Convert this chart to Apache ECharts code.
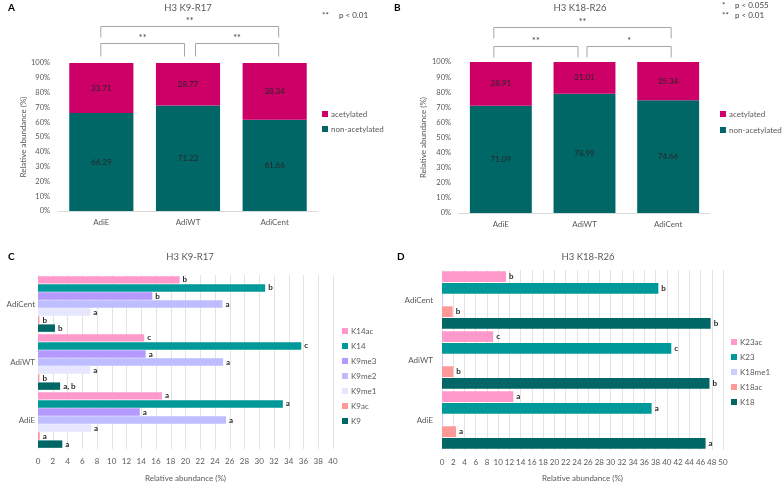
<!DOCTYPE html>
<html><head><meta charset="utf-8">
<script src="https://cdn.jsdelivr.net/npm/echarts@6/dist/echarts.min.js"></script>
<style>html,body{margin:0;padding:0;background:#fff}#c{width:783px;height:484px}</style>
</head><body><div id="c"></div>
<script>
const groups = ['AdiE', 'AdiWT', 'AdiCent'];
// Panel A: H3 K9-R17
const aNonAcetylated = [66.29, 71.23, 61.66];
const aAcetylated = [33.71, 28.77, 38.34];
// Panel B: H3 K18-R26
const bNonAcetylated = [71.09, 78.99, 74.66];
const bAcetylated = [28.91, 21.01, 25.34];
// Panel C: H3 K9-R17 (values per group AdiE, AdiWT, AdiCent)
const cNames = ['K14ac', 'K14', 'K9me3', 'K9me2', 'K9me1', 'K9ac', 'K9'];
const cK14ac = [16.8, 14.4, 19.2];
const cK14 = [33.2, 35.7, 30.8];
const cK9me3 = [13.8, 14.6, 15.5];
const cK9me2 = [25.5, 25.1, 25.0];
const cK9me1 = [7.2, 7.1, 7.1];
const cK9ac = [0.25, 0.2, 0.2];
const cK9 = [3.3, 3.0, 2.3];
const cLetters = {
  K14ac: ['a', 'c', 'b'], K14: ['a', 'c', 'b'], K9me3: ['a', 'a', 'b'],
  K9me2: ['a', 'a', 'a'], K9me1: ['a', 'a', 'a'], K9ac: ['a', 'b', 'b'], K9: ['a', 'a, b', 'b']
};
// Panel D: H3 K18-R26
const dNames = ['K23ac', 'K23', 'K18me1', 'K18ac', 'K18'];
const dK23ac = [12.7, 9.1, 11.4];
const dK23 = [37.3, 40.8, 38.5];
const dK18me1 = [0.2, 0.2, 0.2];
const dK18ac = [2.5, 2.0, 1.9];
const dK18 = [46.9, 47.6, 47.8];
const dLetters = {
  K23ac: ['a', 'c', 'b'], K23: ['a', 'c', 'b'], K18me1: ['', '', ''],
  K18ac: ['a', 'b', 'b'], K18: ['a', 'b', 'b']
};
const pctTicksMax = 100;
const cTicksMax = 40;
const dTicksMax = 50;
// significance brackets: [fromIdx, toIdx, stars, level]
const aBrackets = [[0, 2, '**', 0], [0, 1, '**', 1], [1, 2, '**', 1]];
const bBrackets = [[0, 2, '**', 0], [0, 1, '**', 1], [1, 2, '*', 1]];

const FONT = 'Lato, "Open Sans", sans-serif';
const GREY = '#595959';
const colors = {
  acetylated: '#CC0066', 'non-acetylated': '#006666',
  K14ac: '#FF99CC', K14: '#009999', K9me3: '#B499FF', K9me2: '#BDBDFF', K9me1: '#E6E6FF', K9ac: '#FF9999', K9: '#006666',
  K23ac: '#FF99CC', K23: '#009999', K18me1: '#CCCCFF', K18ac: '#FF9999', K18: '#006666'
};
const cData = { K14ac: cK14ac, K14: cK14, K9me3: cK9me3, K9me2: cK9me2, K9me1: cK9me1, K9ac: cK9ac, K9: cK9 };
const dData = { K23ac: dK23ac, K23: dK23, K18me1: dK18me1, K18ac: dK18ac, K18: dK18 };

const chart = echarts.init(document.getElementById('c'), null, { renderer: 'canvas' });

function catX(i) {
  return {
    type: 'category', gridIndex: i, data: groups,
    axisLine: { lineStyle: { color: '#D9D9D9' } }, axisTick: { show: false },
    axisLabel: { color: GREY, fontSize: 8, fontFamily: FONT, margin: 7 }
  };
}
function pctY(i, gap) {
  return {
    type: 'value', gridIndex: i, min: 0, max: pctTicksMax, interval: 10,
    name: 'Relative abundance (%)', nameLocation: 'middle', nameGap: gap,
    nameTextStyle: { color: GREY, fontSize: 8, fontFamily: FONT },
    axisLine: { show: false }, axisTick: { show: false }, splitLine: { show: false },
    axisLabel: { color: GREY, fontSize: 7.5, fontFamily: FONT, margin: 8, formatter: '{value}%' }
  };
}
function valX(i, max, gap) {
  return {
    type: 'value', gridIndex: i, min: 0, max: max, interval: 2,
    name: 'Relative abundance (%)', nameLocation: 'middle', nameGap: gap,
    nameTextStyle: { color: GREY, fontSize: 8, fontFamily: FONT },
    axisLine: { show: false }, axisTick: { show: false },
    splitLine: { show: true, lineStyle: { color: '#E3E3E3', width: 1 } },
    axisLabel: { color: GREY, fontSize: 8, fontFamily: FONT, margin: 8 }
  };
}
function catY(i, margin) {
  return {
    type: 'category', gridIndex: i, data: groups,
    axisLine: { show: false }, axisTick: { show: false },
    axisLabel: { color: GREY, fontSize: 8, fontFamily: FONT, margin: margin }
  };
}
function stackSeries(name, data, gi) {
  return {
    type: 'bar', name: name, xAxisIndex: gi, yAxisIndex: gi, stack: 's' + gi, data: data,
    barWidth: '74%', itemStyle: { color: colors[name] },
    label: { show: true, position: 'inside', color: '#262626', fontSize: 8, fontFamily: FONT,
      textBorderWidth: 0, textBorderColor: 'transparent', formatter: p => p.value.toFixed(2) }
  };
}
function hSeries(name, data, letters, gi) {
  return {
    type: 'bar', name: name, xAxisIndex: gi, yAxisIndex: gi, data: data,
    barGap: '8%', barCategoryGap: '4%',
    itemStyle: { color: colors[name] },
    label: { show: true, position: 'right', distance: 3, color: '#262626', fontSize: 8, fontWeight: 'bold', fontFamily: FONT,
      formatter: p => letters[p.dataIndex] }
  };
}
function legendCfg(names, left, top, gap) {
  return {
    orient: 'vertical', left: left, top: top, itemWidth: 6, itemHeight: 6, itemGap: gap, data: names,
    icon: 'rect', selectedMode: false, padding: 0,
    textStyle: { color: GREY, fontSize: 8, fontFamily: FONT, padding: [0, 0, 0, -2] }
  };
}

const series = [
  stackSeries('non-acetylated', aNonAcetylated, 0),
  stackSeries('acetylated', aAcetylated, 0),
  stackSeries('non-acetylated', bNonAcetylated, 1),
  stackSeries('acetylated', bAcetylated, 1)
];
cNames.forEach(n => series.push(hSeries(n, cData[n], cLetters[n], 2)));
dNames.forEach(n => series.push(hSeries(n, dData[n], dLetters[n], 3)));

function titleAt(text, x, y, bold, size) {
  return { text: text, left: x, top: y, textAlign: bold ? 'left' : 'center', padding: 0,
    textStyle: { color: bold ? '#000' : GREY, fontSize: size, fontWeight: bold ? 'bold' : 'normal', fontFamily: FONT } };
}

chart.setOption({
  animation: false,
  backgroundColor: '#fff',
  title: [
    titleAt('A', 8, 3, true, 10), titleAt('H3 K9-R17', 188, 3, false, 9.5),
    titleAt('B', 394, 3, true, 10), titleAt('H3 K18-R26', 580, 3, false, 9.5),
    titleAt('C', 8, 252, true, 10), titleAt('H3 K9-R17', 190, 252, false, 9.5),
    titleAt('D', 397, 252, true, 10), titleAt('H3 K18-R26', 588, 252, false, 9.5)
  ],
  grid: [
    { left: 58, top: 63, width: 260, height: 148 },
    { left: 459, top: 62, width: 251, height: 151 },
    { left: 38, top: 275, width: 295, height: 174 },
    { left: 442, top: 270, width: 281, height: 180 }
  ],
  xAxis: [catX(0), catX(1), valX(2, cTicksMax, 25), valX(3, dTicksMax, 24)],
  yAxis: [pctY(0, 31), pctY(1, 32), catY(2, 3), catY(3, 9)],
  legend: [
    legendCfg(['acetylated', 'non-acetylated'], 322, 110, 7),
    legendCfg(['acetylated', 'non-acetylated'], 720, 110, 8),
    legendCfg(cNames, 342, 327, 7),
    legendCfg(dNames, 731, 338, 7)
  ],
  series: series
});

// significance brackets placed via the category scale
function bracketGraphics(gi, brackets, yTop, yLow, drop, offs) {
  const els = [];
  brackets.forEach(b => {
    const o = offs[b.slice(0, 2).join('-')];
    const x1 = chart.convertToPixel({ gridIndex: gi }, [groups[b[0]], 0])[0] + o[0];
    const x2 = chart.convertToPixel({ gridIndex: gi }, [groups[b[1]], 0])[0] + o[1];
    const y = b[3] === 0 ? yTop : yLow;
    els.push({ type: 'polyline', shape: { points: [[x1, y + drop[b[3]]], [x1, y], [x2, y], [x2, y + drop[b[3]]]] },
      style: { stroke: '#A6A6A6', lineWidth: 1, fill: null } });
    els.push({ type: 'text', x: (x1 + x2) / 2, y: y - 1, style: { text: b[2], fill: '#404040', fontSize: 9, fontFamily: FONT, align: 'center', verticalAlign: 'bottom' } });
  });
  return els;
}
function note(x, y, t) {
  return { type: 'text', x: x, y: y, style: { text: t, fill: '#404040', fontSize: 8, fontFamily: FONT, verticalAlign: 'middle' } };
}
const g = [].concat(
  bracketGraphics(0, aBrackets, 26.5, 43.5, [11, 13], { '0-2': [-0.5, 4], '0-1': [-0.5, -3.5], '1-2': [7.5, 4] }),
  bracketGraphics(1, bBrackets, 27.5, 46.5, [11, 11], { '0-2': [-7, 3], '0-1': [-7, -6.5], '1-2': [2.5, 3] }),
  [note(322, 15, '**'), note(339, 15, 'p < 0.01'),
   note(722, 5, '*'), note(735, 5, 'p < 0.055'), note(722, 15, '**'), note(735, 15, 'p < 0.01')]
);
chart.setOption({ graphic: g });
</script>
</body></html>
